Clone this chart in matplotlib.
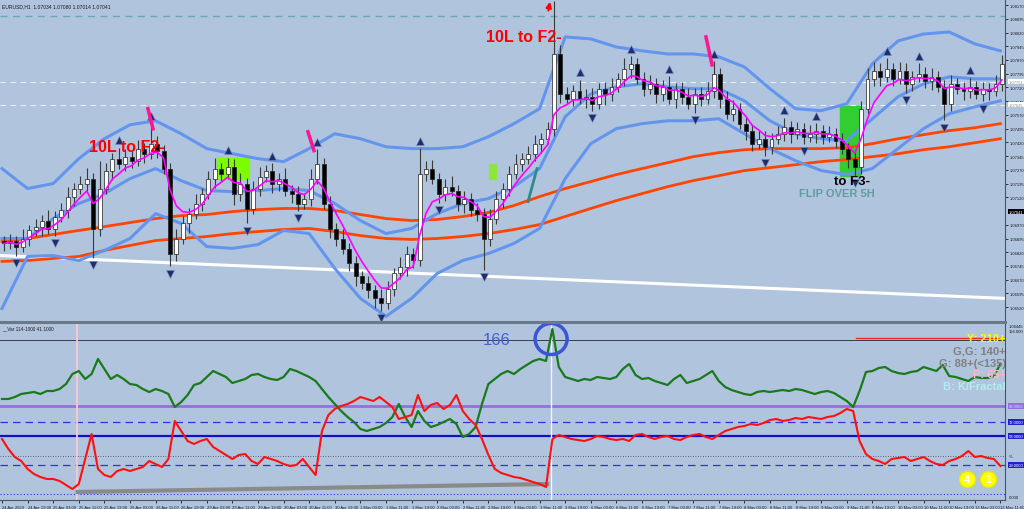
import numpy as np
import pandas as pd
import matplotlib
matplotlib.use("Agg")
import matplotlib.pyplot as plt
from matplotlib.patches import Rectangle, Ellipse
from matplotlib.lines import Line2D

# ---------------- data (EURUSD H1, drawn as 2-hour candles) ----------------
closes = [
    1.06868, 1.06879, 1.06851, 1.06895, 1.06939, 1.06960, 1.06993, 1.06949, 1.07015, 1.07048,
    1.07124, 1.07168, 1.07195, 1.07222, 1.06949, 1.07168, 1.07266, 1.07331, 1.07304, 1.07342,
    1.07320, 1.07385, 1.07358, 1.07413, 1.07375, 1.07276, 1.06813, 1.06895, 1.06977, 1.07031,
    1.07086, 1.07140, 1.07222, 1.07276, 1.07249, 1.07287, 1.07140, 1.07195, 1.07058, 1.07168,
    1.07233, 1.07266, 1.07195, 1.07222, 1.07157, 1.07140, 1.07086, 1.07113, 1.07222, 1.07304,
    1.07086, 1.06949, 1.06895, 1.06840, 1.06759, 1.06688, 1.06650, 1.06612, 1.06568, 1.06541,
    1.06622, 1.06704, 1.06742, 1.06813, 1.06775, 1.07249, 1.07276, 1.07222, 1.07140, 1.07178,
    1.07157, 1.07086, 1.07113, 1.07048, 1.07031, 1.06895, 1.07004, 1.07113, 1.07168, 1.07249,
    1.07304, 1.07331, 1.07358, 1.07413, 1.07440, 1.07494, 1.07903, 1.07685, 1.07658, 1.07702,
    1.07658, 1.07669, 1.07631, 1.07712, 1.07685, 1.07723, 1.07767, 1.07821, 1.07849, 1.07767,
    1.07712, 1.07740, 1.07685, 1.07723, 1.07658, 1.07712, 1.07669, 1.07631, 1.07685, 1.07658,
    1.07702, 1.07794, 1.07658, 1.07576, 1.07604, 1.07522, 1.07484, 1.07413, 1.07440, 1.07396,
    1.07440, 1.07467, 1.07505, 1.07467, 1.07494, 1.07451, 1.07467, 1.07484, 1.07451, 1.07467,
    1.07429, 1.07385, 1.07331, 1.07287, 1.07604, 1.07767, 1.07811, 1.07778, 1.07821, 1.07767,
    1.07811, 1.07740, 1.07778, 1.07794, 1.07756, 1.07778, 1.07723, 1.07631, 1.07740, 1.07712,
    1.07702, 1.07723, 1.07685, 1.07712, 1.07702, 1.07740, 1.07849,
]
first_open = 1.06880

# wick lengths in pips
up_wick = [
    3, 4, 3, 5, 3, 4, 3, 6, 3, 4, 5, 3, 4, 6, 3, 15, 4, 3, 6, 4,
    3, 5, 3, 11, 4, 3, 3, 5, 4, 3, 5, 3, 4, 6, 3, 5, 4, 6, 3, 4,
    5, 3, 4, 3, 6, 3, 4, 3, 5, 8, 3, 4, 3, 5, 3, 4, 3, 4, 3, 5,
    4, 3, 5, 4, 3, 14, 4, 5, 3, 4, 6, 3, 4, 3, 4, 3, 5, 4, 3, 4,
    5, 3, 4, 5, 3, 4, 29, 5, 4, 3, 6, 4, 5, 3, 4, 5, 3, 6, 4, 3,
    4, 5, 3, 4, 6, 3, 4, 5, 3, 4, 5, 7, 3, 4, 5, 3, 4, 3, 5, 4,
    3, 4, 5, 3, 4, 3, 5, 4, 3, 4, 3, 4, 3, 5, 4, 6, 5, 4, 6, 3,
    5, 4, 3, 6, 4, 5, 3, 4, 5, 3, 4, 5, 3, 4, 3, 5, 5,
]
dn_wick = [
    4, 3, 5, 3, 4, 3, 5, 3, 4, 3, 4, 5, 3, 4, 16, 4, 3, 5, 3, 4,
    4, 3, 5, 3, 4, 3, 7, 4, 3, 5, 3, 4, 3, 5, 4, 3, 6, 4, 8, 3,
    4, 3, 5, 4, 3, 5, 4, 3, 4, 3, 3, 5, 4, 3, 4, 5, 3, 4, 5, 4,
    3, 4, 3, 5, 4, 3, 4, 3, 5, 4, 3, 4, 5, 3, 4, 17, 4, 3, 5, 4,
    3, 4, 3, 4, 5, 3, 4, 5, 3, 4, 3, 5, 4, 3, 6, 4, 3, 4, 5, 3,
    4, 3, 5, 4, 3, 5, 4, 3, 5, 4, 3, 4, 5, 3, 4, 3, 5, 4, 3, 5,
    4, 3, 4, 5, 3, 4, 3, 5, 4, 3, 4, 3, 5, 5, 4, 3, 4, 5, 3, 4,
    3, 5, 4, 3, 4, 5, 3, 9, 4, 3, 5, 4, 3, 4, 5, 3, 4,
]

# indicator lines sampled every 8 hours
line_hours = list(range(0, 313, 8))
bb_upper = [1.07277, 1.07168, 1.07195, 1.07331, 1.07440, 1.07516, 1.07538, 1.07467, 1.07386, 1.07358,
            1.07331, 1.07315, 1.07386, 1.07467, 1.07440, 1.07396, 1.07386, 1.07386, 1.07396, 1.07451,
            1.07522, 1.07604, 1.07996, 1.07985, 1.07941, 1.07920, 1.07903, 1.07903, 1.07887, 1.07832,
            1.07713, 1.07604, 1.07593, 1.07631, 1.07849, 1.07974, 1.08012, 1.08023, 1.07958, 1.07920]
bb_mid = [1.06895, 1.06895, 1.07004, 1.07086, 1.07140, 1.07222, 1.07277, 1.07211, 1.07157, 1.07151,
          1.07157, 1.07168, 1.07157, 1.07086, 1.06993, 1.06922, 1.06950, 1.07031, 1.07086, 1.07113,
          1.07178, 1.07277, 1.07560, 1.07685, 1.07723, 1.07740, 1.07723, 1.07713, 1.07713, 1.07647,
          1.07538, 1.07467, 1.07440, 1.07429, 1.07549, 1.07669, 1.07740, 1.07778, 1.07767, 1.07767]
bb_lower = [1.06513, 1.06797, 1.06802, 1.06775, 1.06830, 1.06895, 1.07031, 1.06977, 1.06851, 1.06841,
            1.06862, 1.06939, 1.06922, 1.06732, 1.06568, 1.06470, 1.06568, 1.06704, 1.06775, 1.06813,
            1.06868, 1.06950, 1.07222, 1.07413, 1.07495, 1.07522, 1.07538, 1.07538, 1.07549, 1.07467,
            1.07386, 1.07320, 1.07266, 1.07244, 1.07277, 1.07386, 1.07495, 1.07576, 1.07614, 1.07647]
ma_fast = [1.06879, 1.06895, 1.06917, 1.06939, 1.06960, 1.06982, 1.07004, 1.07020, 1.07026, 1.07042,
           1.07053, 1.07059, 1.07059, 1.07048, 1.07026, 1.07004, 1.06993, 1.06999, 1.07015, 1.07037,
           1.07075, 1.07124, 1.07168, 1.07206, 1.07244, 1.07277, 1.07309, 1.07342, 1.07364, 1.07380,
           1.07386, 1.07386, 1.07386, 1.07391, 1.07413, 1.07440, 1.07462, 1.07484, 1.07500, 1.07522]
ma_slow = [1.06770, 1.06775, 1.06786, 1.06797, 1.06830, 1.06857, 1.06884, 1.06895, 1.06906, 1.06922,
           1.06933, 1.06944, 1.06950, 1.06933, 1.06911, 1.06895, 1.06890, 1.06895, 1.06906, 1.06922,
           1.06944, 1.06971, 1.07015, 1.07059, 1.07102, 1.07140, 1.07178, 1.07211, 1.07238, 1.07266,
           1.07282, 1.07298, 1.07315, 1.07326, 1.07342, 1.07358, 1.07380, 1.07396, 1.07418, 1.07440]
trend_hours = [-0.6, 313.4]
trend_prices = [1.06802, 1.06568]

# oscillator window (one value per 2-hour candle)
osc_green = [
    95, 95, 97, 100, 101, 102, 100, 103, 103, 105, 110, 120, 123, 115, 120, 135, 125, 115, 119, 115,
    110, 109, 105, 102, 105, 103, 100, 87, 92, 99, 109, 111, 117, 123, 120, 117, 111, 113, 115, 119,
    120, 117, 115, 114, 117, 125, 123, 120, 117, 113, 105, 97, 90, 83, 77, 72, 65, 63, 65, 67,
    71, 77, 90, 77, 67, 83, 73, 67, 69, 72, 75, 70, 57, 60, 67, 90, 110, 115, 120, 123,
    120, 125, 129, 133, 135, 133, 165, 127, 117, 115, 113, 115, 114, 117, 116, 115, 117, 125, 130, 119,
    115, 116, 113, 111, 109, 115, 119, 111, 113, 115, 119, 123, 113, 107, 104, 102, 100, 99, 102, 103,
    102, 103, 104, 103, 105, 104, 102, 100, 102, 103, 101, 97, 93, 87, 103, 122, 123, 126, 127, 123,
    121, 120, 122, 123, 127, 125, 123, 129, 118, 117, 115, 113, 117, 116, 116, 118, 130,
]
osc_red = [
    55, 45, 37, 33, 25, 20, 17, 15, 15, 13, 9, 5, 10, 35, 60, 25, 19, 17, 23, 25,
    23, 25, 27, 33, 30, 27, 35, 73, 63, 53, 50, 53, 55, 47, 43, 39, 35, 39, 40, 33,
    30, 37, 35, 33, 30, 28, 29, 35, 27, 19, 63, 79, 85, 88, 90, 93, 97, 95, 93, 97,
    92, 87, 75, 77, 79, 99, 83, 89, 91, 85, 89, 99, 83, 75, 69, 55, 39, 25, 21, 19,
    17, 16, 14, 12, 10, 7, 55, 59, 57, 55, 54, 53, 55, 58, 57, 55, 54, 55, 53, 59,
    60, 57, 55, 57, 58, 55, 54, 57, 59, 60, 57, 55, 59, 63, 65, 67, 68, 70, 69, 71,
    74, 75, 73, 74, 76, 75, 77, 76, 75, 77, 78, 81, 85, 83, 53, 40, 35, 33, 30, 35,
    36, 37, 33, 35, 37, 33, 30, 29, 33, 35, 38, 43, 37, 38, 36, 35, 28,
]
gray_hours = [23, 171]
gray_vals = [2, 10]

time_labels = [
    "24 Apr 2024", "24 Apr 19:00", "25 Apr 03:00", "25 Apr 11:00", "25 Apr 19:00",
    "26 Apr 03:00", "26 Apr 11:00", "26 Apr 19:00", "29 Apr 03:00", "29 Apr 11:00",
    "29 Apr 19:00", "30 Apr 03:00", "30 Apr 11:00", "30 Apr 19:00", "1 May 03:00",
    "1 May 11:00", "1 May 19:00", "2 May 03:00", "2 May 11:00", "2 May 19:00",
    "3 May 03:00", "3 May 11:00", "3 May 19:00", "6 May 03:00", "6 May 11:00",
    "6 May 19:00", "7 May 03:00", "7 May 11:00", "7 May 19:00", "8 May 03:00",
    "8 May 11:00", "8 May 19:00", "9 May 03:00", "9 May 11:00", "9 May 19:00",
    "10 May 03:00", "10 May 11:00", "10 May 19:00", "13 May 03:00", "13 May 11:00",
]
price_ticks = [1.08170, 1.08095, 1.08020, 1.07945, 1.07870, 1.07795, 1.07720, 1.07645,
               1.07570, 1.07495, 1.07420, 1.07345, 1.07270, 1.07195, 1.07120, 1.06970,
               1.06895, 1.06820, 1.06745, 1.06670, 1.06595, 1.06520]

# ---------------- figure ----------------
BG = "#b0c4de"
AXC = "#4a5562"
SANS = ["Liberation Sans", "DejaVu Sans"]
plt.rcParams["font.family"] = SANS

fig = plt.figure(figsize=(10.24, 5.10), dpi=100, facecolor=BG)
W, H = 1024.0, 510.0
ax1 = fig.add_axes([0, 1 - 321 / H, 1005 / W, 321 / H], facecolor=BG)
ax2 = fig.add_axes([0, 1 - 501 / H, 1005 / W, 177 / H], facecolor=BG)
fig.add_artist(Line2D([0, 1005 / W], [1 - 322.5 / H] * 2, color="#6b7888", lw=2.2))

xmin, xmax = -0.625, 313.45
for ax in (ax1, ax2):
    ax.set_xlim(xmin, xmax)
    for s in ("left", "top"):
        ax.spines[s].set_visible(False)
    ax.spines["right"].set_color(AXC)
    ax.spines["bottom"].set_color(AXC)
ax1.spines["bottom"].set_visible(False)
ax1.set_ylim(1.06450, 1.08203)
ax2.set_ylim(-6, 171)

# ---------------- upper window ----------------
n = len(closes)
opens = [first_open] + closes[:-1]
tc = np.arange(n) * 2 + 0.5
highs = [max(o, c) + u * 0.0001 for o, c, u in zip(opens, closes, up_wick)]
lows = [min(o, c) - d * 0.0001 for o, c, d in zip(opens, closes, dn_wick)]

# zones and marks behind the candles
ax1.add_patch(Rectangle((67.2, 1.07222), 10.0, 0.00114, color="#7cfc00", zorder=1))
ax1.add_patch(Rectangle((152.2, 1.07222), 2.2, 0.00082, color="#8ee53f", zorder=1))
ax1.add_patch(Rectangle((261.9, 1.07238), 6.2, 0.00382, color="#32cd32", zorder=1))

ax1.axhline(1.08110, color="#6aa6b4", lw=1.0, ls=(0, (5, 4)), zorder=1)
ax1.axhline(1.07751, color="#e8eef6", lw=0.8, ls=(0, (5, 4)), zorder=1)
ax1.axhline(1.07625, color="#e8eef6", lw=0.8, ls=(0, (5, 4)), zorder=1)

ax1.plot(trend_hours, trend_prices, color="white", lw=2.2, zorder=2)
ax1.plot(line_hours, ma_slow, color="#ff4500", lw=2.0, zorder=2)
ax1.plot(line_hours, ma_fast, color="#ff4500", lw=2.0, zorder=2)
for band in (bb_upper, bb_mid, bb_lower):
    ax1.plot(line_hours, band, color="#6495ed", lw=2.2, zorder=2)

magenta = pd.Series(closes).ewm(span=5).mean()
ax1.plot(tc, magenta, color="#ff00ff", lw=1.2, zorder=4)

# candles
ax1.vlines(tc, lows, highs, color="#3a3a3a", lw=0.8, zorder=3)
for x, o, c in zip(tc, opens, closes):
    bull = c >= o
    h = max(abs(c - o), 0.00003)
    ax1.bar(x, h, bottom=min(o, c), width=1.2,
            color="white" if bull else "black", edgecolor="#202020", lw=0.5, zorder=3)

# fractal arrows
for i in range(2, n - 2):
    if highs[i] == max(highs[i - 2:i + 3]):
        ax1.plot(tc[i], highs[i] + 0.00040, marker="^", ms=5.5, color="#1e2d6b",
                 mec="#8090c0", mew=0.4, zorder=5)
    if lows[i] == min(lows[i - 2:i + 3]):
        ax1.plot(tc[i], lows[i] - 0.00040, marker="v", ms=5.5, color="#1e2d6b",
                 mec="#8090c0", mew=0.4, zorder=5)

# hand-drawn marks
ax1.plot([45.6, 47.2], [1.07604, 1.07494], color="#ff1493", lw=2.5, zorder=6)
ax1.plot([95.6, 97.5], [1.07478, 1.07375], color="#ff1493", lw=2.5, zorder=6)
ax1.plot([220.0, 221.9], [1.07996, 1.07843], color="#ff1493", lw=2.5, zorder=6)
ax1.plot([164.4, 167.2], [1.07097, 1.07277], color="#2e8b8b", lw=2.0, zorder=6)
ax1.annotate("", xy=(171.4, 1.08203), xytext=(170.6, 1.08125),
             arrowprops=dict(arrowstyle="-|>", color="red", lw=1.5, mutation_scale=8), zorder=6)

ax1.text(39, 1.07396, "10L to F2-", color="red", fontsize=11.5, fontweight="bold",
         ha="center", va="center", zorder=7)
ax1.text(163.1, 1.07996, "10L to F2-", color="red", fontsize=11.5, fontweight="bold",
         ha="center", va="center", zorder=7)
ax1.text(265.5, 1.07211, "to F3-", color="black", fontsize=9.5, fontweight="bold",
         ha="center", va="center", zorder=7)
ax1.text(260.8, 1.07146, "FLIP OVER 5H", color="#5f9ea0", fontsize=8, fontweight="bold",
         ha="center", va="center", zorder=7)

ax1.text(0.002, 0.988, "EURUSD,H1  1.07034 1.07080 1.07014 1.07041", transform=ax1.transAxes,
         fontsize=3.6, color="#1a1a1a", va="top")

ax1.yaxis.tick_right()
ax1.set_yticks(price_ticks)
ax1.set_yticklabels([f"{p:.5f}" for p in price_ticks])
ax1.tick_params(axis="y", labelsize=3.0, length=2, width=0.6, pad=1.5, colors="#1a1a1a")
ax1.set_xticks([])

ytr = ax1.get_yaxis_transform()
for p, fc, tcol in [(1.07751, "white", "#888888"), (1.07625, "white", "#888888"),
                    (1.07041, "black", "white")]:
    ax1.text(1.004, p, f"{p:.5f}", transform=ytr, fontsize=3.0, color=tcol, va="center",
             ha="left", clip_on=False,
             bbox=dict(boxstyle="square,pad=0.15", fc=fc, ec="none"), zorder=8)

# ---------------- lower window ----------------
ax2.axhline(154, color="#3a3a4a", lw=0.7)
ax2.plot([267, xmax], [156, 156], color="#ff2020", lw=1.0)
ax2.axhline(88, color="#9370db", lw=2.0)
ax2.axhline(72, color="#3030e0", lw=0.9, ls=(0, (6, 4)))
ax2.axhline(58, color="#1010c8", lw=1.6)
ax2.axhline(38, color="#404060", lw=0.6, ls=(0, (1, 2)))
ax2.axhline(29, color="#3030e0", lw=0.9, ls=(0, (6, 4)))
ax2.axhline(0, color="#3030e0", lw=0.8, ls=(0, (1, 2)))

ax2.axvline(23.5, color="#ffc8d0", lw=1.3)
ax2.axvline(171.6, color="#f4f6fa", lw=1.0)

ax2.plot(gray_hours, gray_vals, color="#8a8a8a", lw=3.0, solid_capstyle="butt")
ax2.plot(tc - 0.5, osc_green, color="#1a7a1a", lw=1.6)
ax2.plot(tc - 0.5, osc_red, color="#ff1010", lw=1.5)

ax2.add_patch(Ellipse((171.6, 155), 10.0, 31, fill=False, ec="#3a55d6", lw=2.5, zorder=6))
ax2.text(154.7, 154, "166", color="#4a5fd0", fontsize=12, ha="center", va="center", zorder=6)

legend_rows = [("Y: 210+", 156, "#ffff00"), ("G,G: 140+", 143, "#808080"),
               ("G: 88+(<135)", 131, "#808080"), ("P: 65+", 120, "#ffb6c1"),
               ("B: K/Fractal", 108, "#afeeee")]
for label, yv, col in legend_rows:
    ax2.text(313.8, yv, label, color=col, fontsize=8, fontweight="bold",
             ha="right", va="center", clip_on=True, zorder=7)

for hx, digit in [(301.6, "4"), (308.1, "1")]:
    ax2.plot(hx, 15, marker="o", ms=11.5, color="#ffff00", mec="#e8e800", zorder=7)
    ax2.text(hx, 15, digit, color="white", fontsize=8, fontweight="bold",
             ha="center", va="center", zorder=8)

ax2.text(0.002, 0.985, "__Var 114-1000 41.1000", transform=ax2.transAxes,
         fontsize=3.4, color="#1a1a1a", va="top")

ytr2 = ax2.get_yaxis_transform()
for val, fc, tcol, txt in [(88, "#9370db", "#e0d8ff", "88.0000"), (72, "#2020d0", "white", "72.0000"),
                           (58, "#2020d0", "white", "58.0000"), (29, "#2020d0", "white", "29.0000")]:
    ax2.text(1.004, val, txt, transform=ytr2, fontsize=3.0, color=tcol, va="center",
             ha="left", clip_on=False,
             bbox=dict(boxstyle="square,pad=0.15", fc=fc, ec="none"), zorder=8)
ax2.text(1.004, 38, "%", transform=ytr2, fontsize=3.0, color="#1a1a1a", va="center", clip_on=False)
ax2.text(1.004, 168, "1.06445", transform=ytr2, fontsize=3.0, color="#1a1a1a", va="center", clip_on=False)
ax2.text(1.004, 163, "166.000", transform=ytr2, fontsize=3.0, color="#1a1a1a", va="center", clip_on=False)
ax2.text(1.004, -3, "0.000", transform=ytr2, fontsize=3.0, color="#1a1a1a", va="center", clip_on=False)
ax2.set_yticks([])

ax2.set_xticks(list(range(0, 313, 8)))
ax2.set_xticklabels(time_labels)
ax2.tick_params(axis="x", labelsize=3.0, length=2, width=0.6, pad=1.5, colors="#1a1a1a")
for lab in ax2.get_xticklabels():
    lab.set_ha("left")

fig.savefig("out.png", dpi=100, facecolor=BG)
